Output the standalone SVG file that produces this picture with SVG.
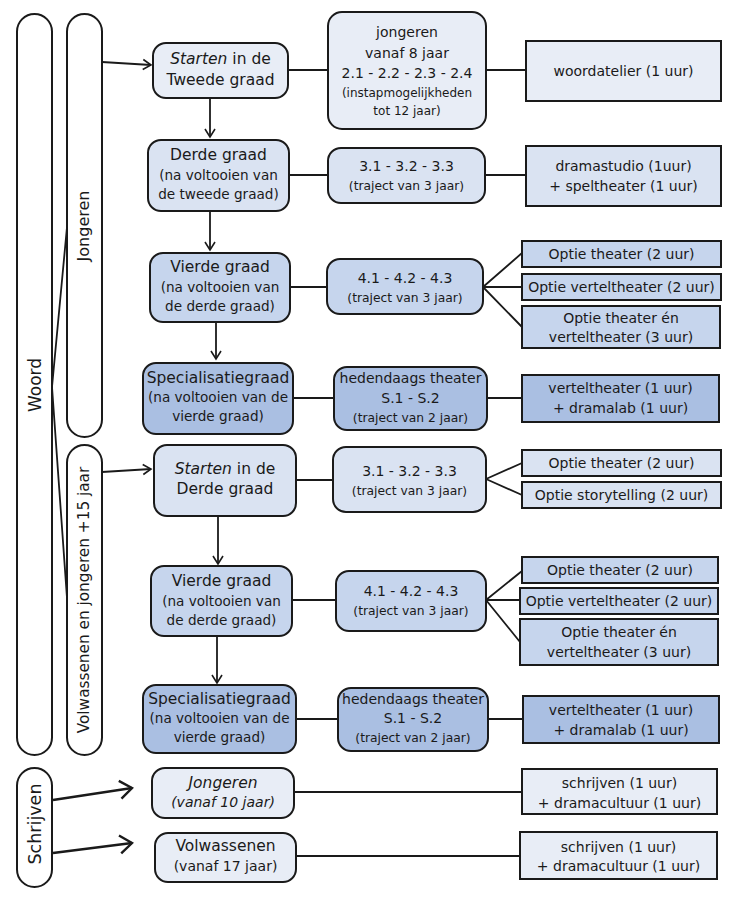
<svg xmlns="http://www.w3.org/2000/svg" width="744" height="909" viewBox="0 0 744 909">
<defs>
<style>
text{font-family:"DejaVu Sans","Open Sans",sans-serif;fill:#1a1a1a;text-anchor:middle}
.pill{fill:#fff;stroke:#1a1a1a;stroke-width:2}
.n{stroke:#1a1a1a;stroke-width:2}
.c1{fill:#e8edf6}.c2{fill:#dae3f2}.c3{fill:#c6d5ed}.c4{fill:#aabfe2}
.t16{font-size:15.5px}.t15{font-size:14px}.t14{font-size:13.6px}.t13{font-size:12px}.t12{font-size:12.3px}.r{font-size:14px}
.ln{fill:none;stroke:#1a1a1a;stroke-width:1.8}
.thick{fill:none;stroke:#1a1a1a;stroke-width:2.6}
</style>
<marker id="ah" markerUnits="userSpaceOnUse" markerWidth="16" markerHeight="16" refX="14" refY="8" orient="auto">
<path d="M6,3 L14,8 L6,13" fill="none" stroke="#1a1a1a" stroke-width="1.6"/>
</marker>
<marker id="ahb" markerUnits="userSpaceOnUse" markerWidth="24" markerHeight="24" refX="21" refY="12" orient="auto">
<path d="M9,3 L21,12 L9,21" fill="none" stroke="#1a1a1a" stroke-width="2.4"/>
</marker>
</defs>

<g id="groups">
<g id="woord"><rect class="pill" x="17" y="14" width="35" height="741" rx="17.5"/><text font-size="17" transform="translate(35,385) rotate(-90)" y="6">Woord</text></g>
<g id="jongeren-pill"><rect class="pill" x="67" y="14" width="35" height="423" rx="17.5"/><text font-size="16" transform="translate(84,226) rotate(-90)" y="5">Jongeren</text></g>
<g id="volwassenen-pill"><rect class="pill" x="67" y="445" width="35" height="310" rx="17.5"/><text font-size="15.3" transform="translate(84,600) rotate(-90)" y="5">Volwassenen en jongeren +15 jaar</text></g>
<g id="schrijven"><rect class="pill" x="17" y="768" width="35" height="119" rx="17.5"/><text font-size="17.5" transform="translate(35,824) rotate(-90)" y="6">Schrijven</text></g>
</g>

<g id="connectors">
<path class="ln" d="M67,227 L52,387 L67,598"/>
<path class="ln" d="M102,62 L151,65" marker-end="url(#ah)"/>
<path class="ln" d="M102,472 L151,469" marker-end="url(#ah)"/>
<path class="thick" d="M53,800 L132,788" marker-end="url(#ahb)"/>
<path class="thick" d="M53,853 L132,843" marker-end="url(#ahb)"/>
<path class="ln" d="M210,98 L210,137" marker-end="url(#ah)"/>
<path class="ln" d="M210,211 L210,250" marker-end="url(#ah)"/>
<path class="ln" d="M216,322 L216,359" marker-end="url(#ah)"/>
<path class="ln" d="M218,516 L218,564" marker-end="url(#ah)"/>
<path class="ln" d="M217,636 L217,683" marker-end="url(#ah)"/>
<path class="ln" d="M288,70 H328 M486,70 H526"/>
<path class="ln" d="M289,175 H328 M485,175 H526"/>
<path class="ln" d="M290,287 H327 M483,287 L522,253 M483,287 H522 M483,287 L522,327"/>
<path class="ln" d="M293,398 H334 M487,398 H522"/>
<path class="ln" d="M296,480 H333 M486,479 L522,463 M486,479 L522,495"/>
<path class="ln" d="M292,600 H336 M486,600 L522,571 M486,600 H520 M486,600 L520,642"/>
<path class="ln" d="M296,719 H338 M488,719 H523"/>
<path class="ln" d="M294,792 H522"/>
<path class="ln" d="M296,856 H520"/>
</g>

<g id="n1"><rect class="n c1" x="153" y="43" width="135" height="55" rx="13"/><text class="t16" x="220.5" y="64"><tspan font-style="italic">Starten</tspan> in de</text><text class="t16" x="220.5" y="85">Tweede graad</text></g>
<g id="n2"><rect class="n c2" x="148" y="140" width="141" height="71" rx="13"/><text class="t16" x="218.5" y="160">Derde graad</text><text class="t14" x="218.5" y="180">(na voltooien van</text><text class="t14" x="218.5" y="199">de tweede graad)</text></g>
<g id="n3"><rect class="n c3" x="150" y="253" width="140" height="69" rx="13"/><text class="t16" x="220" y="272">Vierde graad</text><text class="t14" x="220" y="292">(na voltooien van</text><text class="t14" x="220" y="311">de derde graad)</text></g>
<g id="n4"><rect class="n c4" x="143" y="363" width="150" height="71" rx="13"/><text class="t16" x="218" y="383">Specialisatiegraad</text><text class="t14" x="218" y="402">(na voltooien van de</text><text class="t14" x="218" y="421">vierde graad)</text></g>
<g id="n5"><rect class="n c2" x="154" y="445" width="142" height="71" rx="13"/><text class="t16" x="225" y="474"><tspan font-style="italic">Starten</tspan> in de</text><text class="t16" x="225" y="494">Derde graad</text></g>
<g id="n6"><rect class="n c3" x="151" y="566" width="141" height="70" rx="13"/><text class="t16" x="221.5" y="586">Vierde graad</text><text class="t14" x="221.5" y="606">(na voltooien van</text><text class="t14" x="221.5" y="625">de derde graad)</text></g>
<g id="n7"><rect class="n c4" x="143" y="685" width="153" height="68" rx="13"/><text class="t16" x="219.5" y="704">Specialisatiegraad</text><text class="t14" x="219.5" y="723">(na voltooien van de</text><text class="t14" x="219.5" y="742">vierde graad)</text></g>
<g id="n8"><rect class="n c1" x="152" y="768" width="142" height="50" rx="13"/><text class="t16" x="223" y="788" font-style="italic">Jongeren</text><text class="r" x="223" y="807" font-style="italic">(vanaf 10 jaar)</text></g>
<g id="n9"><rect class="n c1" x="155" y="833" width="141" height="49" rx="13"/><text class="t16" x="225.5" y="851">Volwassenen</text><text class="r" x="225.5" y="871">(vanaf 17 jaar)</text></g>

<g id="a"><rect class="n c1" x="328" y="12" width="158" height="117" rx="14"/><text class="t15" x="407" y="37">jongeren</text><text class="t15" x="407" y="58">vanaf 8 jaar</text><text class="t15" x="407" y="78">2.1 - 2.2 - 2.3 - 2.4</text><text class="t13" x="407" y="97">(instapmogelijkheden</text><text class="t13" x="407" y="115">tot 12 jaar)</text></g>
<g id="b"><rect class="n c2" x="328" y="148" width="157" height="55" rx="13"/><text class="t15" x="406.5" y="171">3.1 - 3.2 - 3.3</text><text class="t12" x="406.5" y="190">(traject van 3 jaar)</text></g>
<g id="c"><rect class="n c3" x="327" y="259" width="156" height="55" rx="13"/><text class="t15" x="405" y="283">4.1 - 4.2 - 4.3</text><text class="t12" x="405" y="302">(traject van 3 jaar)</text></g>
<g id="d"><rect class="n c4" x="334" y="367" width="153" height="63" rx="13"/><text class="t15" x="410.5" y="383">hedendaags theater</text><text class="t15" x="410.5" y="403">S.1 - S.2</text><text class="t12" x="410.5" y="422">(traject van 2 jaar)</text></g>
<g id="e"><rect class="n c2" x="333" y="447" width="153" height="65" rx="13"/><text class="t15" x="409.5" y="476">3.1 - 3.2 - 3.3</text><text class="t12" x="409.5" y="495">(traject van 3 jaar)</text></g>
<g id="f"><rect class="n c3" x="336" y="571" width="150" height="60" rx="13"/><text class="t15" x="411" y="596">4.1 - 4.2 - 4.3</text><text class="t12" x="411" y="615">(traject van 3 jaar)</text></g>
<g id="g"><rect class="n c4" x="338" y="688" width="150" height="63" rx="13"/><text class="t15" x="413" y="704">hedendaags theater</text><text class="t15" x="413" y="723">S.1 - S.2</text><text class="t12" x="413" y="742">(traject van 2 jaar)</text></g>

<g id="A"><rect class="n c1" x="526" y="41" width="195" height="60"/><text class="r" x="623.5" y="76">woordatelier (1 uur)</text></g>
<g id="B"><rect class="n c2" x="526" y="146" width="195" height="60"/><text class="r" x="623.5" y="171">dramastudio (1uur)</text><text class="r" x="623.5" y="191">+ speltheater (1 uur)</text></g>
<g id="C"><rect class="n c3" x="522" y="241" width="199" height="26"/><text class="r" x="621.5" y="259">Optie theater (2 uur)</text></g>
<g id="D"><rect class="n c3" x="522" y="274" width="199" height="26"/><text class="r" x="621.5" y="292">Optie verteltheater (2 uur)</text></g>
<g id="E"><rect class="n c3" x="522" y="306" width="198" height="42"/><text class="r" x="621" y="323">Optie theater én</text><text class="r" x="621" y="342">verteltheater (3 uur)</text></g>
<g id="F"><rect class="n c4" x="522" y="375" width="197" height="47"/><text class="r" x="620.5" y="393">verteltheater (1 uur)</text><text class="r" x="620.5" y="413">+ dramalab (1 uur)</text></g>
<g id="G"><rect class="n c2" x="522" y="450" width="199" height="26"/><text class="r" x="621.5" y="468">Optie theater (2 uur)</text></g>
<g id="H"><rect class="n c2" x="522" y="482" width="199" height="26"/><text class="r" x="621.5" y="500">Optie storytelling (2 uur)</text></g>
<g id="I"><rect class="n c3" x="522" y="557" width="196" height="26"/><text class="r" x="620" y="575">Optie theater (2 uur)</text></g>
<g id="J"><rect class="n c3" x="520" y="588" width="198" height="26"/><text class="r" x="619" y="606">Optie verteltheater (2 uur)</text></g>
<g id="K"><rect class="n c3" x="520" y="619" width="198" height="46"/><text class="r" x="619" y="637">Optie theater én</text><text class="r" x="619" y="657">verteltheater (3 uur)</text></g>
<g id="L"><rect class="n c4" x="523" y="696" width="196" height="47"/><text class="r" x="621" y="715">verteltheater (1 uur)</text><text class="r" x="621" y="735">+ dramalab (1 uur)</text></g>
<g id="M"><rect class="n c1" x="522" y="769" width="195" height="45"/><text class="r" x="619.5" y="788">schrijven (1 uur)</text><text class="r" x="619.5" y="808">+ dramacultuur (1 uur)</text></g>
<g id="N"><rect class="n c1" x="520" y="832" width="197" height="47"/><text class="r" x="618.5" y="852">schrijven (1 uur)</text><text class="r" x="618.5" y="871">+ dramacultuur (1 uur)</text></g>
</svg>
